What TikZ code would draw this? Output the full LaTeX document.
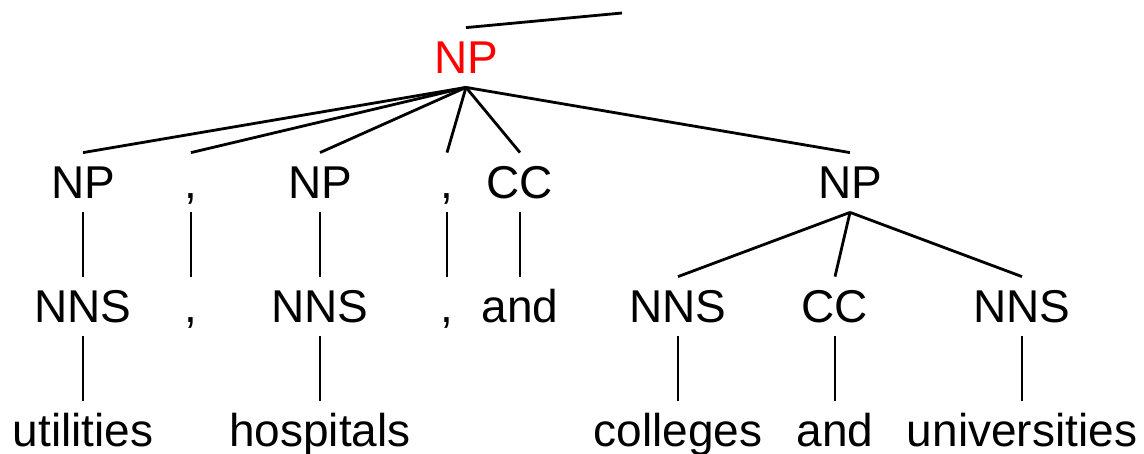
\documentclass[tikz,border=0pt]{standalone}
\usepackage{fontspec}
\setmainfont{Liberation Sans}

\tikzset{lbl/.style={anchor=base, inner xsep=0pt, inner ysep=11pt, text height=33pt, text depth=2pt, font=\fontsize{46}{46}\selectfont}}

\begin{document}
\begin{tikzpicture}[x=1pt, y=-1pt, line width=2.8pt]
    \useasboundingbox (0,0) rectangle (1144,453);
    % root
    \node[lbl, text=red] (np0) at (466,73){NP};
    \coordinate (up) at (622,13);

    % phrases
    \node[lbl] (np1) at (83,198){NP};
    \node[lbl] (cm1) at (191,198){,};
    \node[lbl] (np2) at (320,198){NP};
    \node[lbl] (cm2) at (447,198){,};
    \node[lbl] (cc1) at (520,198){CC};
    \node[lbl] (np3) at (850,198){NP};

    % tags
    \node[lbl] (nns1) at (83,322){NNS};
    \node[lbl] (cm3) at (191,322){,};
    \node[lbl] (nns2) at (320,322){NNS};
    \node[lbl] (cm4) at (447,322){,};
    \node[lbl] (and1) at (520,322){and};
    \node[lbl] (nns3) at (678,322){NNS};
    \node[lbl] (cc2) at (835,322){CC};
    \node[lbl] (nns4) at (1022,322){NNS};

    % words
    \node[lbl] (w1) at (83,446){utilities};
    \node[lbl] (w2) at (320,446){hospitals};
    \node[lbl] (w3) at (678,446){colleges};
    \node[lbl] (w4) at (835,446){and};
    \node[lbl] (w5) at (1022,446){universities};

    % edges
    \draw (np0.north) -- (up);
    \draw (np0.south) -- (np1.north);
    \draw (np0.south) -- (cm1.north);
    \draw (np0.south) -- (np2.north);
    \draw (np0.south) -- (cm2.north);
    \draw (np0.south) -- (cc1.north);
    \draw (np0.south) -- (np3.north);
    \draw (np1.south) -- (nns1.north);
    \draw (cm1.south) -- (cm3.north);
    \draw (np2.south) -- (nns2.north);
    \draw (cm2.south) -- (cm4.north);
    \draw (cc1.south) -- (and1.north);
    \draw (np3.south) -- (nns3.north);
    \draw (np3.south) -- (cc2.north);
    \draw (np3.south) -- (nns4.north);
    \draw (nns1.south) -- (w1.north);
    \draw (nns2.south) -- (w2.north);
    \draw (nns3.south) -- (w3.north);
    \draw (cc2.south) -- (w4.north);
    \draw (nns4.south) -- (w5.north);
\end{tikzpicture}
\end{document}
